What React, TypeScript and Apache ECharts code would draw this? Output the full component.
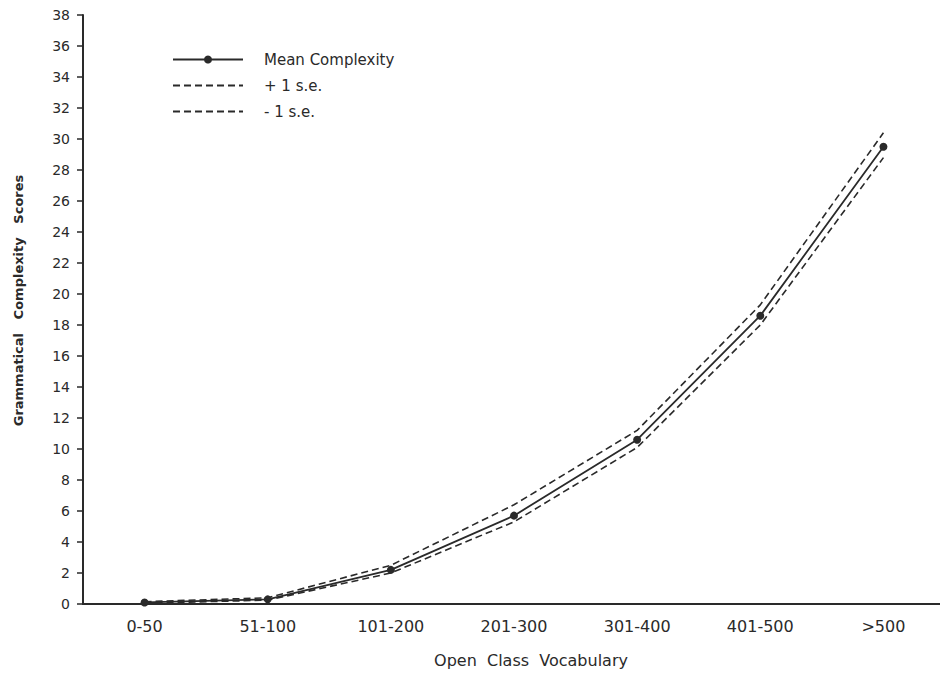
import React, { useEffect, useRef } from "react";
import * as echarts from "echarts";

const categories = ["0-50", "51-100", "101-200", "201-300", "301-400", "401-500", ">500"];
const meanComplexity = [0.1, 0.3, 2.2, 5.7, 10.6, 18.6, 29.5];
const plusOneSE = [0.15, 0.4, 2.5, 6.4, 11.2, 19.3, 30.4];
const minusOneSE = [0.05, 0.25, 2.0, 5.3, 10.1, 18.0, 28.8];
const seriesNames = ["Mean Complexity", "+ 1 s.e.", "- 1 s.e."];
const yTitle = "Grammatical   Complexity   Scores";
const xTitle = "Open  Class  Vocabulary";

const INK = "#2a2a2a";
const FONT = "'DejaVu Sans', 'Noto Sans', sans-serif";

export default function App() {
  const ref = useRef<HTMLDivElement>(null);
  useEffect(() => {
    if (!ref.current) return;
    const chart = echarts.init(ref.current, null, { renderer: "svg" });
    chart.setOption({
      animation: false,
      backgroundColor: "#ffffff",
      grid: { left: 83, width: 862, top: 15, bottom: 73, containLabel: false, outerBoundsMode: "none" },
      legend: {
        orient: "vertical",
        left: 172,
        top: 52,
        padding: 0,
        itemWidth: 70,
        itemHeight: 10,
        itemGap: 11,
        data: [
          { name: seriesNames[0] },
          { name: seriesNames[1], itemStyle: { opacity: 0 } },
          { name: seriesNames[2], itemStyle: { opacity: 0 } },
        ],
        textStyle: { color: INK, fontFamily: FONT, fontSize: 15, padding: [0, 0, 0, 16] },
      },
      xAxis: [
        {
          type: "category",
          data: categories,
          boundaryGap: true,
          axisLine: { lineStyle: { color: INK, width: 2 } },
          axisTick: { alignWithLabel: true, length: 8, lineStyle: { color: INK, width: 1.5 } },
          axisLabel: { color: INK, fontFamily: FONT, fontSize: 16, margin: 14 },
          name: xTitle,
          nameLocation: "middle",
          nameGap: 48,
          nameTextStyle: { color: INK, fontFamily: FONT, fontSize: 16, padding: [0, 0, 0, 34] },
          splitLine: { show: false },
        },
        {
          type: "category",
          data: categories,
          position: "bottom",
          boundaryGap: true,
          axisLine: { show: false },
          axisTick: { alignWithLabel: false, length: 5, lineStyle: { color: INK, width: 1.5 } },
          axisLabel: { show: false },
          splitLine: { show: false },
        },
      ],
      yAxis: {
        type: "value",
        min: 0,
        max: 38,
        interval: 2,
        axisLine: { show: true, lineStyle: { color: INK, width: 2 } },
        axisTick: { show: true, length: 6, lineStyle: { color: INK, width: 1.5 } },
        axisLabel: { color: INK, fontFamily: FONT, fontSize: 14, margin: 13 },
        splitLine: { show: false },
        name: yTitle,
        nameLocation: "middle",
        nameGap: 58,
        nameRotate: 90,
        nameTextStyle: {
          color: INK,
          fontFamily: FONT,
          fontSize: 13,
          fontWeight: "bold",
          padding: [0, 0, 0, 18],
        },
      },
      series: [
        {
          name: seriesNames[0],
          type: "line",
          data: meanComplexity,
          symbol: "circle",
          symbolSize: 8,
          itemStyle: { color: INK },
          lineStyle: { color: INK, width: 1.8, type: "solid" },
        },
        {
          name: seriesNames[1],
          type: "line",
          data: plusOneSE,
          symbol: "none",
          itemStyle: { color: INK },
          lineStyle: { color: INK, width: 1.6, type: [7, 4] },
        },
        {
          name: seriesNames[2],
          type: "line",
          data: minusOneSE,
          symbol: "none",
          itemStyle: { color: INK },
          lineStyle: { color: INK, width: 1.6, type: [7, 4] },
        },
      ],
    });
    return () => chart.dispose();
  }, []);
  return (
    <div
      ref={ref}
      style={{ position: "fixed", left: 0, top: 0, width: 940, height: 677, background: "#fff" }}
    />
  );
}
